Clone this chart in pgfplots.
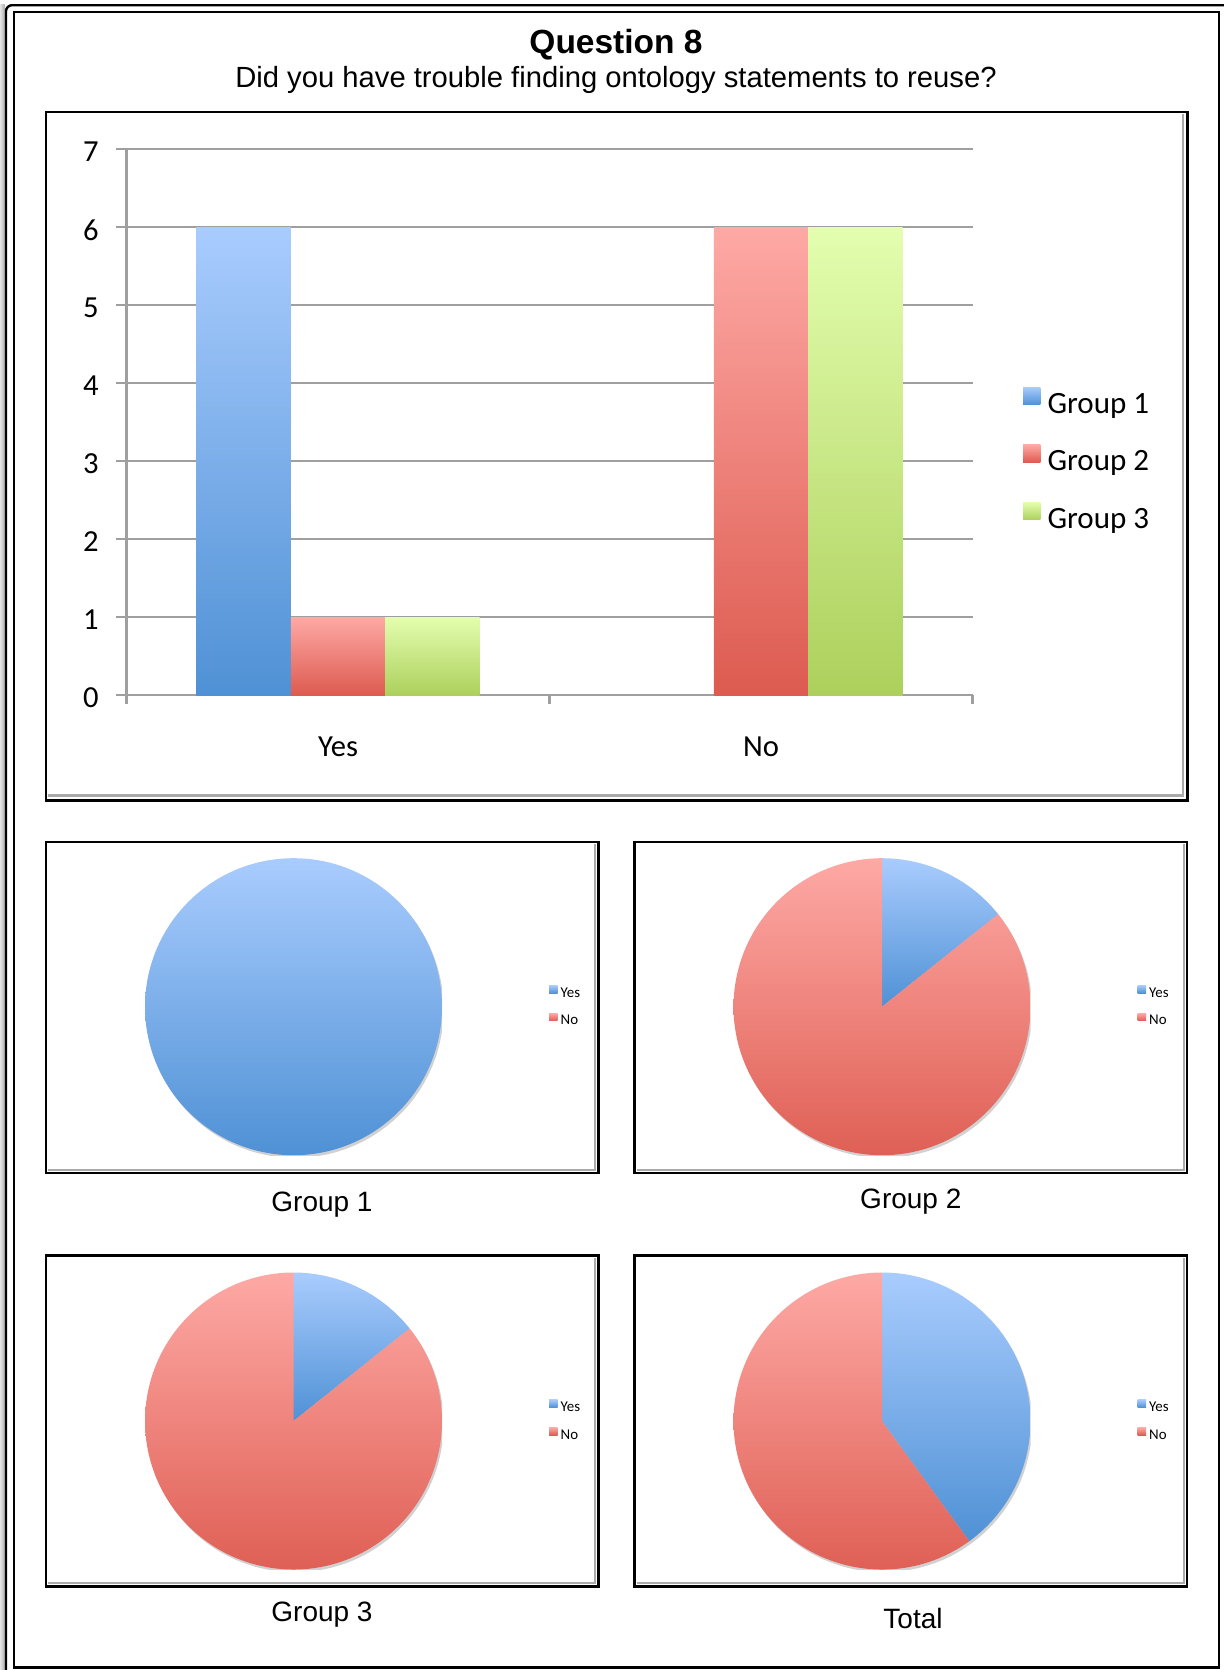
\documentclass[border=0pt]{standalone}
\usepackage{pgfplots}
\pgfplotsset{compat=1.18}
\usetikzlibrary{calc}
\usepackage{fontspec}
\setmainfont{Liberation Sans}
\newfontfamily\carlito{Carlito}
\definecolor{bT}{HTML}{A9CCFE}
\definecolor{bB}{HTML}{4F91D5}
\definecolor{rT}{HTML}{FEA9A5}
\definecolor{rB}{HTML}{DD5B50}
\definecolor{gT}{HTML}{E3FEAF}
\definecolor{gB}{HTML}{ADD05C}
\definecolor{frgray}{HTML}{AAAAAA}
\pgfplotsset{
  pieax/.style={
    scale only axis, width=148.5pt, height=148.5pt, anchor=center,
    hide axis, xmin=-1, xmax=1, ymin=-1, ymax=1,
    legend style={at={(1.3603,0.5)}, anchor=west, draw=none, fill=none,
      inner sep=0pt, outer sep=0pt, row sep=6.5pt,
      font=\carlito\fontsize{7.45}{9}\selectfont,
      nodes={inner xsep=1.5pt, inner ysep=0pt, text height=5.2pt, text depth=1.6pt}},
    legend cell align=left,
    legend image code/.code={\path[##1,draw=none] (0pt,0.2pt) rectangle (4.35pt,4.05pt);},
  },
}
\newcommand{\pieR}{74.25pt}
\begin{document}
\begin{tikzpicture}
\useasboundingbox (0,0) rectangle (611.5pt,-835pt);
% outer frame
\shade[left color=gray!20, right color=gray!65] (0,-2pt) rectangle (2.4pt,-835pt);
\draw[line width=1.2pt, rounded corners=3pt] (3pt,-835pt) -- (3pt,-2.6pt) -- (612pt,-2.6pt);
\draw[line width=1.3pt] (7pt,-6pt) rectangle (609.5pt,-833.75pt);
% title
\node[anchor=base, font=\bfseries\fontsize{16.75}{20}\selectfont] at (308pt,-27pt) {Question 8};
\node[anchor=base, font=\fontsize{14.6}{17}\selectfont] at (308pt,-43.5pt) {Did you have trouble finding ontology statements to reuse?};
% bar chart frame
\draw[line width=1.35pt] (23pt,-56pt) rectangle (593.75pt,-400.25pt);
\draw[frgray, line width=1.2pt] (591.5pt,-57pt) -- (591.5pt,-397.75pt) -- (24pt,-397.75pt);
% pie frames
\foreach \px/\py in {23/-421, 317.25/-421, 23/-627.75, 317.25/-627.75}{
  \draw[line width=1.35pt] (\px pt,\py pt) rectangle ++(276.25pt,-165.5pt);
  \draw[frgray, line width=1pt] ($(\px pt,\py pt)+(274.6pt,-1pt)$) -- ++(0,-162.9pt) -- ++(-273.5pt,0);
}
% labels under pies
\node[anchor=base, font=\fontsize{14}{17}\selectfont] at (161pt,-605.5pt) {Group 1};
\node[anchor=base, font=\fontsize{14}{17}\selectfont] at (455.4pt,-604pt) {Group 2};
\node[anchor=base, font=\fontsize{14}{17}\selectfont] at (161pt,-810.85pt) {Group 3};
\node[anchor=base, font=\fontsize{14}{17}\selectfont] at (456.5pt,-814.15pt) {Total};

% ---------------- bar chart ----------------
\begin{axis}[
  at={(63.25pt,-347.5pt)}, anchor=south west,
  scale only axis, width=423pt, height=273pt,
  xmin=-0.5, xmax=1.5, ymin=0, ymax=7,
  axis x line*=bottom, axis y line*=left,
  axis line style={draw=gray!75, line width=1.35pt},
  xtick={0,1}, xticklabels={Yes,No},
  minor xtick={-0.5,0.5,1.5},
  ytick={0,1,...,7},
  ymajorgrids, major grid style={draw=gray!75, line width=1.35pt},
  tick align=outside, major tick length=5pt, minor tick length=4.5pt,
  tick style={draw=gray!75, line width=1.35pt},
  major x tick style={draw=none},
  ticklabel style={font=\carlito\fontsize{15.3}{17}\selectfont},
  /pgf/number format/assume math mode=true,
  yticklabel style={xshift=-5.4pt, yshift=-1.4pt},
  xticklabel style={anchor=base, yshift=-25.5pt},
  legend style={at={(1.0597,0.428)}, anchor=west, draw=none, fill=none,
    inner sep=0pt, outer sep=0pt, row sep=12.3pt,
    font=\carlito\fontsize{15.5}{18}\selectfont,
    nodes={inner xsep=3.6pt, inner ysep=0pt, text height=11pt, text depth=3.5pt}},
  legend cell align=left,
  legend image code/.code={\path[#1,draw=none] (0pt,0.6pt) rectangle (8.7pt,9.3pt);},
]
\addplot[ybar, bar width=0.2233, bar shift=-0.2233, draw=none, top color=bT, bottom color=bB] coordinates {(0,6)};
\addlegendentry{Group 1}
\addplot[ybar, bar width=0.2233, bar shift=0, draw=none, top color=rT, bottom color=rB] coordinates {(0,1)};
\addlegendentry{Group 2}
\addplot[ybar, bar width=0.2233, bar shift=0.2233, draw=none, top color=gT, bottom color=gB] coordinates {(0,1)};
\addlegendentry{Group 3}
% the "No" bars of groups 2 and 3 (one path per bar, so each has its own gradient)
\addplot[ybar, bar width=0.2233, bar shift=0, draw=none, top color=rT, bottom color=rB, forget plot] coordinates {(1,6)};
\addplot[ybar, bar width=0.2233, bar shift=0.2233, draw=none, top color=gT, bottom color=gB, forget plot] coordinates {(1,6)};
\end{axis}

% ---------------- pies ----------------
% Group 1: Yes 6, No 0
\begin{axis}[pieax, at={(146.75pt,-503.35pt)}]
\addlegendimage{top color=bT, bottom color=bB}\addlegendentry{Yes}
\addlegendimage{top color=rT, bottom color=rB}\addlegendentry{No}
\fill[black!18] (axis cs:0,0) ++(0.8pt,-1.3pt) circle[radius=\pieR];
\path[top color=bT, bottom color=bB] (axis cs:0,0) -- ++(90:\pieR) arc[start angle=90, end angle={90-360*6/6}, radius=\pieR] -- cycle;
\end{axis}
% Group 2: Yes 1, No 6
\begin{axis}[pieax, at={(441pt,-503.35pt)}]
\addlegendimage{top color=bT, bottom color=bB}\addlegendentry{Yes}
\addlegendimage{top color=rT, bottom color=rB}\addlegendentry{No}
\fill[black!18] (axis cs:0,0) ++(0.8pt,-1.3pt) circle[radius=\pieR];
\path[top color=bT, bottom color=bB] (axis cs:0,0) -- ++(90:\pieR) arc[start angle=90, end angle={90-360*1/7}, radius=\pieR] -- cycle;
\path[top color=rT, bottom color=rB] (axis cs:0,0) -- ++({90-360*1/7}:\pieR) arc[start angle={90-360*1/7}, end angle=-270, radius=\pieR] -- cycle;
\end{axis}
% Group 3: Yes 1, No 6
\begin{axis}[pieax, at={(146.75pt,-710.5pt)}]
\addlegendimage{top color=bT, bottom color=bB}\addlegendentry{Yes}
\addlegendimage{top color=rT, bottom color=rB}\addlegendentry{No}
\fill[black!18] (axis cs:0,0) ++(0.8pt,-1.3pt) circle[radius=\pieR];
\path[top color=bT, bottom color=bB] (axis cs:0,0) -- ++(90:\pieR) arc[start angle=90, end angle={90-360*1/7}, radius=\pieR] -- cycle;
\path[top color=rT, bottom color=rB] (axis cs:0,0) -- ++({90-360*1/7}:\pieR) arc[start angle={90-360*1/7}, end angle=-270, radius=\pieR] -- cycle;
\end{axis}
% Total: Yes 8, No 12
\begin{axis}[pieax, at={(441pt,-710.5pt)}]
\addlegendimage{top color=bT, bottom color=bB}\addlegendentry{Yes}
\addlegendimage{top color=rT, bottom color=rB}\addlegendentry{No}
\fill[black!18] (axis cs:0,0) ++(0.8pt,-1.3pt) circle[radius=\pieR];
\path[top color=bT, bottom color=bB] (axis cs:0,0) -- ++(90:\pieR) arc[start angle=90, end angle={90-360*8/20}, radius=\pieR] -- cycle;
\path[top color=rT, bottom color=rB] (axis cs:0,0) -- ++({90-360*8/20}:\pieR) arc[start angle={90-360*8/20}, end angle=-270, radius=\pieR] -- cycle;
\end{axis}
\end{tikzpicture}
\end{document}
